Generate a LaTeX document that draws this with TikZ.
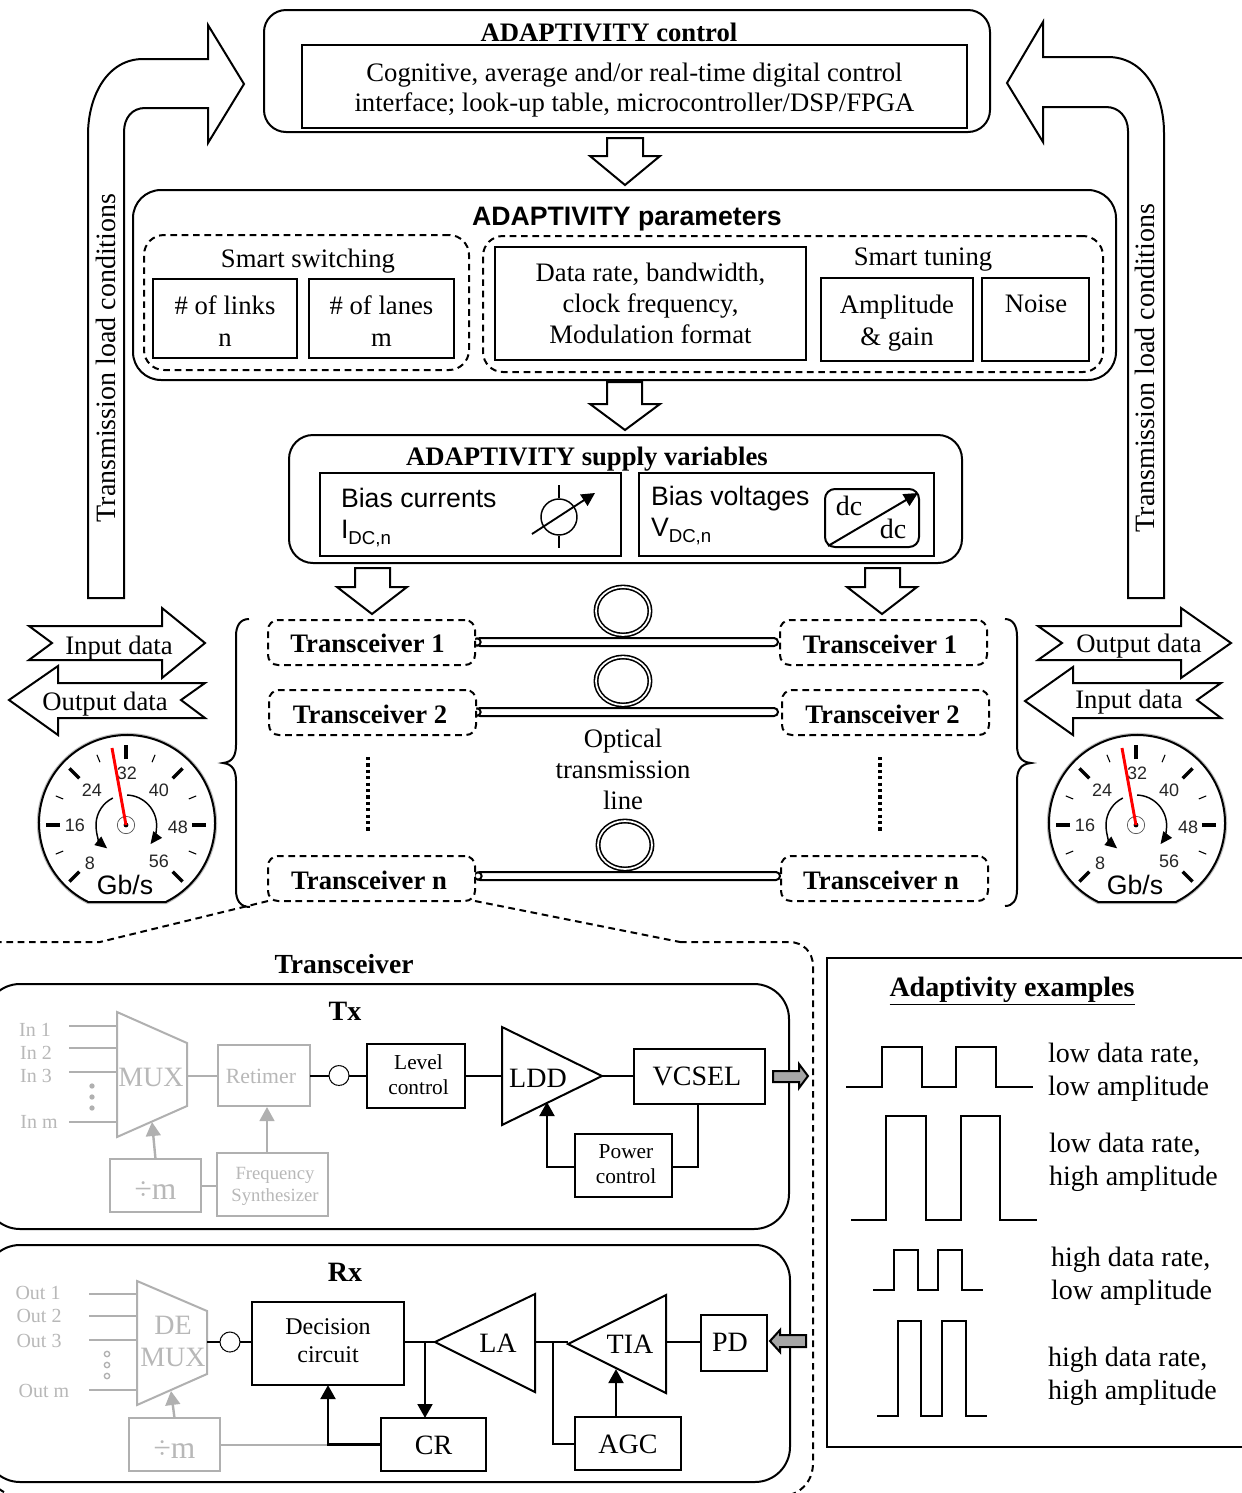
\documentclass[tikz,border=0pt]{standalone}
\usepackage{fontspec}
\setmainfont{Liberation Serif}
\newfontfamily\hv{Liberation Sans}
\usetikzlibrary{arrows.meta,shapes.geometric}
\newcommand\fz[2]{\fontsize{#1}{#2}\selectfont}
\definecolor{gk}{HTML}{B0B0B0}
\definecolor{gt}{HTML}{B8B8B8}
\tikzset{
  lw/.style={line width=1.5pt},
  bx/.style={draw,lw,inner sep=0pt,outer sep=0pt,align=center,fill=white},
  rbx/.style={bx,rounded corners=#1*.75pt},
  dbx/.style={bx,rounded corners=#1*.75pt,dash pattern=on 5pt off 3.5pt,fill=none},
  gbx/.style={bx,draw=gk,text=gt},
  one/.style={text height=17pt,text depth=4pt},
  t/.style={inner sep=0pt,outer sep=0pt,align=center,one},
  m/.style={font=\fz{20}{22.5}},
  mb/.style={font=\fz{21}{22.5}},
  ml/.style={inner sep=0pt,outer sep=0pt,align=center},
  b20/.style={font=\fz{20}{22}\bfseries},
  sm/.style={font=\fz{16}{18.7}},
  lbl/.style={inner sep=0pt,outer sep=0pt,text height=13pt,text depth=2.2pt,font=\fz{15}{15},text=gt},
  blk/.style={draw,lw,fill=white,line join=miter},
  gray/.style={draw=gk,line width=1.5pt},
  gtip/.style={draw=gk,line width=1.8pt,-{Triangle[length=10.5pt,width=11pt]},gk},
  ktip/.style={draw=black,line width=2.2pt,-{Triangle[length=10.5pt,width=11pt]}},
  conn/.style={lw},
  wave/.style={lw,line join=miter},
  ring/.style={draw,ellipse,line width=1.2pt,double,double distance=1.3pt,minimum width=40.5pt,minimum height=36pt,inner sep=0pt},
  fib/.style={draw,lw,rounded corners=3pt,fill=white,inner sep=0pt},
  sock/.style={draw,dash pattern=on 1.6pt off .3pt,line width=.8pt,circle,fill=white,minimum size=15pt,inner sep=0pt},
  gnum/.style={inner sep=0pt,text=black!85,font=\hv\fz{13.5}{14}},
  garrow/.style={line width=1.1pt,-{Triangle[length=9pt,width=8pt]}},
  trxt/.style={t,font=\fz{20}{21}\bfseries},
}
% style, name, x1, y1, x2, y2, text
\newcommand\rectn[7]{\node[#1,minimum width={(#5-#3)*.75pt},minimum height={(#6-#4)*.75pt}] (#2) at ({(#3+#5)/2},{(#4+#6)/2}) {#7}}
\newcommand\gauge[3]{%
\begin{scope}[shift={(#2,#3)},x=.75pt,y=.75pt]
  \begin{scope}[shift={(1,2)}]
  \draw[line width=3.2pt,black!25] (243.9:88) arc[start angle=243.9,end angle=-63.9,radius=66pt] -- cycle;
  \draw[line width=1.5pt,fill=white] (243.9:88) arc[start angle=243.9,end angle=-63.9,radius=66pt] -- cycle;
  \end{scope}
  \foreach \a in {0,45,90,135,180,225,-45} \draw[line width=2.6pt] (\a:66) -- (\a:80);
  \foreach \a in {22.5,67.5,112.5,157.5,202.5,-22.5} \draw[line width=.8pt] (\a:68) -- (\a:76);
  \node[gnum] (#1-32) at (1,52) {32};
  \node[gnum] (#1-24) at (-34,35) {24};
  \node[gnum] (#1-40) at (33,35) {40};
  \node[gnum] (#1-16) at (-51,0) {16};
  \node[gnum] (#1-48) at (52,-2) {48};
  \node[gnum] (#1-8) at (-36,-38) {8};
  \node[gnum] (#1-56) at (33,-36) {56};
  \node[inner sep=0pt,font=\hv\fz{20}{20}] (#1-u) at (-1,-60) {Gb/s};
  \draw[garrow] (116:30) arc[start angle=116,end angle=231,radius=22.5pt];
  \draw[garrow] (88:30) arc[start angle=88,end angle=-37,radius=23pt];
  \draw[line width=.5pt,draw=black!70] (0,0) circle[radius=6.5pt];
  \fill (0,0) circle[radius=1.8pt];
  \draw[red,line width=2.2pt] (0,0) -- (-14,77);
\end{scope}}
\begin{document}
\begin{tikzpicture}[x=.75pt,y=-.75pt]
\useasboundingbox (0,0) rectangle (1242,1493);
\clip (0,0) rectangle (1242,1493);

% ---- control
\rectn{rbx=22}{ctrl}{264}{10}{990}{132}{};
\node[t,b20] (ctrlT) at (609,33) {ADAPTIVITY control};
\rectn{bx}{ctrlI}{302}{45}{967}{128}{};
\node[ml,m] (ctrlX) at (634.5,90.5) {Cognitive, average and/or real-time digital control\\interface; look-up table, microcontroller/DSP/FPGA};

% ---- side arrows
\draw[blk] (88,598) -- (88,135) .. controls (88,95) and (108,59) .. (143,59) -- (208,59) -- (208,25) -- (244,84) -- (208,143) -- (208,108) -- (145,108) .. controls (132,108) and (124,118) .. (124,132) -- (124,598) -- cycle;
\draw[blk] (1164,598) -- (1164,133) .. controls (1164,93) and (1144,57) .. (1108,57) -- (1043,57) -- (1043,22) -- (1007,83) -- (1043,142) -- (1043,107) -- (1106,107) .. controls (1119,107) and (1128,117) .. (1128,131) -- (1128,598) -- cycle;
\node[t,mb,rotate=90] (tlL) at (107,358) {Transmission load conditions};
\node[t,mb,rotate=90] (tlR) at (1146,368) {Transmission load conditions};

% ---- down arrows
\draw[blk] (590,156) -- (607,156) -- (607,138) -- (643,138) -- (643,156) -- (660,156) -- (625,185) -- cycle;
\draw[blk] (590,404) -- (607,404) -- (607,382) -- (642,382) -- (642,404) -- (660,404) -- (625,430) -- cycle;
\draw[blk] (337,587) -- (355,587) -- (355,568) -- (390,568) -- (390,587) -- (407,587) -- (372,614) -- cycle;
\draw[blk] (847,587) -- (865,587) -- (865,568) -- (900,568) -- (900,587) -- (917,587) -- (882,614) -- cycle;

% ---- parameters
\rectn{rbx=28}{par}{133}{190}{1116}{380}{};
\node[t,font=\hv\bfseries\fz{20}{22}] (parT) at (627,216.5) {ADAPTIVITY parameters};
\rectn{dbx=20}{sw}{144}{235}{469}{370}{};
\node[t,m] (swT) at (308,259) {Smart switching};
\rectn{bx}{links}{153}{279}{297}{358}{};
\node[ml,font=\fz{20}{24}] (linksT) at (225,321.5) {\# of links\\n};
\rectn{bx}{lanes}{309}{279}{454}{358}{};
\node[ml,font=\fz{20}{24}] (lanesT) at (381.5,321.5) {\# of lanes\\m};
\rectn{dbx=20}{tu}{483}{236}{1103}{372}{};
\rectn{bx,font=\fz{20}{23.25}}{rate}{495}{247}{806}{360}{Data rate, bandwidth,\\clock frequency,\\Modulation format};
\node[t,m] (tuT) at (923,257) {Smart tuning};
\rectn{bx}{amp}{821}{278}{973}{361}{};
\node[ml,font=\fz{20}{24}] (ampT) at (897,323) {Amplitude\\\& gain};
\rectn{bx}{noise}{982}{278}{1089}{361}{};
\node[t,m] (noiseT) at (1036,304) {Noise};

% ---- supply
\rectn{rbx=24}{sup}{289}{435}{962}{563}{};
\node[t,b20] (supT) at (587,457) {ADAPTIVITY supply variables};
\rectn{bx}{cur}{320}{473}{621}{556}{};
\node[t,anchor=west,font=\hv\fz{20}{22}] (curT) at (341,499) {Bias currents};
\node[t,anchor=west,font=\hv\fz{20}{22}] (curS) at (341,530) {I\raisebox{-.2em}{\fz{14}{14}DC,n}};
\rectn{bx}{vol}{639}{473}{934}{556}{};
\node[t,anchor=west,font=\hv\fz{20}{22}] (volT) at (651,497) {Bias voltages};
\node[t,anchor=west,font=\hv\fz{20}{22}] (volS) at (651,528) {V\raisebox{-.2em}{\fz{14}{14}DC,n}};
\node[draw,circle,line width=1.1pt,minimum size=27pt,inner sep=0pt] (src) at (559,517) {};
\coordinate (srcT) at (559,485); \coordinate (srcB) at (559,548);
\draw[line width=1.1pt] (srcT) -- (src.north);
\draw[line width=1.1pt] (src.south) -- (srcB);
\coordinate (srcA) at (532,534); \coordinate (srcZ) at (595,493);
\draw[line width=1.4pt,-{Triangle[length=10pt,width=10pt]}] (srcA) -- (srcZ);
\rectn{rbx=10}{dcb}{825}{489}{919}{547}{};
\coordinate (dcA) at (828,546); \coordinate (dcZ) at (918,493);
\draw[line width=1.5pt,-{Triangle[length=10.5pt,width=10pt]}] (dcA) -- (dcZ);
\node[t,mb] (dc1) at (849,507) {dc};
\node[t,mb] (dc2) at (893,530) {dc};

% ---- data arrows
\draw[blk] (29,626) -- (162,626) -- (162,608) -- (205,643) -- (162,678) -- (162,660) -- (29,660) -- (52,643) -- cycle;
\draw[blk] (9,700) -- (58,666) -- (58,683) -- (205,683) -- (181,700) -- (205,718) -- (58,718) -- (58,735) -- cycle;
\node[t,m] (inL) at (119,646) {Input data};
\node[t,m] (outL) at (105,702) {Output data};
\draw[blk] (1038,626) -- (1181,626) -- (1181,608) -- (1231,643) -- (1181,678) -- (1181,660) -- (1038,660) -- (1062,643) -- cycle;
\draw[blk] (1025,701) -- (1073,667) -- (1073,683) -- (1221,683) -- (1197,700) -- (1221,718) -- (1073,718) -- (1073,735) -- cycle;
\node[t,m] (outR) at (1139,644) {Output data};
\node[t,m] (inR) at (1129,700) {Input data};

% ---- gauges
\gauge{gl}{126}{825}
\gauge{gr}{1136}{825}

% ---- braces
\draw[lw] (249,619) .. controls (240,619) and (236,626) .. (236,636) -- (236,745) .. controls (236,755) and (233,762) .. (223,763) .. controls (233,764) and (236,771) .. (236,781) -- (236,890) .. controls (236,900) and (240,907) .. (250,907);
\draw[lw] (1005,619) .. controls (1013,619) and (1017,626) .. (1017,636) -- (1017,745) .. controls (1017,755) and (1020,762) .. (1031,763) .. controls (1020,764) and (1017,771) .. (1017,781) -- (1017,890) .. controls (1017,900) and (1013,906) .. (1005,906);

% ---- rings and fibres
\node[ring] (r1) at (623,611) {};
\node[ring] (r2) at (623,681) {};
\node[ring] (r3) at (625,845) {};
\rectn{fib}{f1}{476}{638}{778}{646}{};
\rectn{fib}{f2}{476}{708}{778}{716}{};
\rectn{fib}{f3}{476}{872}{780}{880}{};
\node[draw,circle,lw,minimum size=5.5pt,inner sep=0pt,fill=white] (c1) at (477,642) {};
\node[draw,circle,lw,minimum size=5.5pt,inner sep=0pt,fill=white] (c2) at (477,712) {};
\node[draw,circle,lw,minimum size=5.5pt,inner sep=0pt,fill=white] (c3) at (478,876) {};

% ---- transceivers
\tikzset{trx/.style={dbx=10,fill=white}}
\rectn{trx}{l1}{268}{620}{475}{665}{};
\rectn{trx}{l2}{269}{690}{476}{735}{};
\rectn{trx}{ln}{268}{856}{475}{901}{};
\rectn{trx}{r1b}{780}{620}{987}{665}{};
\rectn{trx}{r2b}{782}{690}{989}{735}{};
\rectn{trx}{rnb}{781}{856}{988}{901}{};
\node[trxt] (l1T) at (367.5,644) {Transceiver 1};
\node[trxt] (l2T) at (370,715) {Transceiver 2};
\node[trxt] (lnT) at (369,881) {Transceiver n};
\node[trxt] (r1T) at (880,645) {Transceiver 1};
\node[trxt] (r2T) at (882.5,715) {Transceiver 2};
\node[trxt] (rnT) at (881,881) {Transceiver n};
\node[ml,m] (opt) at (623,769.5) {Optical\\[.8pt]transmission\\[.8pt]line};
\coordinate (dl1) at (368,757); \coordinate (dl2) at (368,833);
\coordinate (dr1) at (880,757); \coordinate (dr2) at (880,833);
\draw[line width=2.6pt,dash pattern=on 2.4pt off 2.4pt] (dl1) -- (dl2);
\draw[line width=2.6pt,dash pattern=on 2.4pt off 2.4pt] (dr1) -- (dr2);

% ---- transceiver zoom frame
\coordinate (zl) at (100,942); \coordinate (zr) at (680,942);
\draw[lw,dash pattern=on 5pt off 3.5pt] (ln.south west) -- (zl);
\draw[lw,dash pattern=on 5pt off 3.5pt] (ln.south east) -- (zr);
\draw[lw,dash pattern=on 5pt off 3.5pt] (-5,942) -- (zl) (zr) -- (789,942) .. controls (803,942) and (813,952) .. (813,966) -- (813,1463) .. controls (813,1482) and (800,1497) .. (775,1497) -- (22,1497) .. controls (12,1497) and (4,1493) .. (-5,1486);
\node[t,font=\fz{20.7}{22}\bfseries] (trT) at (344,965) {Transceiver};

% ---- Tx
\rectn{rbx=35}{tx}{-15}{984}{789}{1229}{};
\node[t,font=\fz{21}{22}\bfseries] (txT) at (345,1012) {Tx};
\coordinate (muxA) at (117,1012); \coordinate (muxB) at (187,1043); \coordinate (muxC) at (187,1106); \coordinate (muxD) at (117,1137);
\draw[gray] (muxA) -- (muxB) -- (muxC) -- (muxD) -- cycle;
\node[t,font=\fz{21}{22},text=gt] (muxT) at (151,1078) {MUX};
\node[lbl] (in1) at (35,1029) {In 1};
\node[lbl] (in2) at (36,1052) {In 2};
\node[lbl] (in3) at (36,1075) {In 3};
\node[lbl] (inm) at (39,1121) {In m};
\foreach \n/\y in {a/1026,b/1048,c/1072,d/1122}{
  \coordinate (ti\n) at (69,\y); \coordinate (tj\n) at (117,\y);
  \draw[gray] (ti\n) -- (tj\n);}
\fill[gk] (92,1086) circle[radius=2pt] (92,1097) circle[radius=2pt] (92,1108) circle[radius=2pt];
\rectn{gbx}{ret}{218}{1045}{310}{1106}{};
\node[ml,font=\fz{16.3}{18},text=gt] (retT) at (261,1076.5) {Retimer};
\coordinate (muxE) at (187,1076);
\draw[gray] (muxE) -- (muxE -| ret.west);
\rectn{bx}{lvl}{367}{1044}{465}{1108}{};
\node[ml,sm] (lvlT) at (418.5,1075) {Level\\control};
\draw[conn] (ret.east) -- (ret.east -| lvl.west);
\node[sock] (s1) at (339,1075.5) {};
\rectn{gbx,font=\fz{23.6}{24},text height=24.5pt,text depth=4pt}{dm}{110}{1159}{201}{1212}{÷m};
\rectn{gbx}{fs}{217}{1153}{328}{1216}{};
\node[ml,font=\fz{14}{16.5},text=gt] (fsX) at (275,1186.5) {Frequency\\Synthesizer};
\draw[gray] (dm.east) -- (dm.east -| fs.west);
\coordinate (muxP) at (152,1122);
\draw[gtip] (dm.north) -- (muxP);
\coordinate (fsT) at (267,1152); \coordinate (retB) at (267,1107);
\draw[gtip] (fsT) -- (retB);
\coordinate (lddA) at (502,1027); \coordinate (lddB) at (602,1076); \coordinate (lddC) at (502,1125);
\draw[lw,fill=white] (lddA) -- (lddB) -- (lddC) -- cycle;
\node[t,mb] (lddT) at (538,1079) {LDD};
\draw[conn] (lvl.east) -- (lvl.east -| lddA);
\rectn{bx}{vcs}{634}{1049}{765}{1104}{};
\node[t,mb] (vcsT) at (697,1077) {VCSEL};
\draw[conn] (lddB) -- (lddB -| vcs.west);
\rectn{bx}{pwr}{575}{1134}{672}{1197}{};
\node[ml,sm] (pwrT) at (626,1164.5) {Power\\control};
\coordinate (vcsB) at (698,1104); \coordinate (pw) at (698,1167); \coordinate (pwW) at (575,1167);
\draw[conn] (vcsB) -- (pw) -- (pw -| pwr.east);
\coordinate (lddP) at (547,1102);
\draw[ktip] (pwW) -| (lddP);
\draw[lw,fill=gray!70!white] (773,1071) -- (799,1071) -- (799,1064) -- (808,1076) -- (799,1088) -- (799,1082) -- (773,1082) -- cycle;

% ---- Rx
\rectn{rbx=35}{rx}{-15}{1245}{790}{1482}{};
\node[t,font=\fz{21}{22}\bfseries] (rxT) at (345,1273) {Rx};
\coordinate (dmxA) at (137,1281); \coordinate (dmxB) at (207,1311); \coordinate (dmxC) at (207,1374); \coordinate (dmxD) at (137,1405);
\draw[gray] (dmxA) -- (dmxB) -- (dmxC) -- (dmxD) -- cycle;
\node[t,font=\fz{21}{22},text=gt] (dmxT1) at (173,1326) {DE};
\node[t,font=\fz{21}{22},text=gt] (dmxT2) at (173,1358) {MUX};
\node[lbl] (o1) at (38,1292) {Out 1};
\node[lbl] (o2) at (39,1315) {Out 2};
\node[lbl] (o3) at (39,1340) {Out 3};
\node[lbl] (om) at (44,1390) {Out m};
\foreach \n/\y in {a/1294,b/1316,c/1340,d/1390}{
  \coordinate (ri\n) at (89,\y); \coordinate (rj\n) at (137,\y);
  \draw[gray] (ri\n) -- (rj\n);}
\foreach \y in {1354,1365,1376} \draw[gk,line width=1pt] (107,\y) circle[radius=2pt];
\rectn{bx}{dec}{252}{1302}{404}{1385}{};
\node[ml,font=\fz{18}{21}] (decT) at (328,1341) {Decision\\circuit};
\coordinate (dmxE) at (207,1342);
\draw[conn] (dmxE) -- (dmxE -| dec.west);
\node[sock] (s2) at (230,1342) {};
\rectn{gbx,font=\fz{23.6}{24},text height=24.5pt,text depth=4pt}{dm2}{129}{1418}{220}{1471}{÷m};
\coordinate (dmxP) at (171,1391);
\draw[gtip] (dm2.north) -- (dmxP);
\rectn{bx,mb,one,text height=19.7pt}{cr}{381}{1418}{486}{1471}{CR};
\coordinate (crJ) at (dec.south |- cr.west);
\draw[gray] (dm2.east) -- (crJ);
\draw[ktip] (cr.west) -- (crJ) -- (dec.south);
\coordinate (laA) at (435,1342); \coordinate (laB) at (535,1294); \coordinate (laC) at (535,1392);
\draw[lw,fill=white] (laA) -- (laB) -- (laC) -- cycle;
\node[t,mb] (laT) at (498,1344) {LA};
\draw[conn] (laA -| dec.east) -- (laA);
\coordinate (crS) at (425,1342); \coordinate (crP) at (425,1418);
\draw[ktip] (crS) -- (crP);
\coordinate (tiaA) at (568,1344); \coordinate (tiaB) at (666,1295); \coordinate (tiaC) at (666,1393);
\draw[lw,fill=white] (tiaA) -- (tiaB) -- (tiaC) -- cycle;
\node[t,mb] (tiaT) at (630,1345) {TIA};
\coordinate (laO) at (535,1342); \coordinate (tiaI) at (568,1342);
\draw[conn] (laO) -- (tiaI);
\rectn{bx,mb,one,text height=19.7pt}{agc}{575}{1417}{681}{1470}{AGC};
\coordinate (agcS) at (553,1342);
\draw[conn] (agcS) |- (agc.west);
\coordinate (agcT) at (616,1417); \coordinate (tiaP) at (616,1369);
\draw[ktip] (agcT) -- (tiaP);
\rectn{bx}{pd}{701}{1315}{767}{1371}{};
\node[t,mb] (pdT) at (730,1343) {PD};
\coordinate (tiaO) at (666,1342);
\draw[conn] (tiaO) -- (tiaO -| pd.west);
\draw[lw,fill=gray!70!white] (806,1335) -- (780,1335) -- (780,1330) -- (770,1341) -- (780,1352) -- (780,1347) -- (806,1347) -- cycle;

% ---- examples
\rectn{bx,fill=none}{ex}{827}{958}{1260}{1447}{};
\node[t,font=\fz{21}{22}\bfseries] (exT) at (1012,988) {\underline{Adaptivity examples}};
\draw[wave] (846,1087) -- (882,1087) -- (882,1047) -- (922,1047) -- (922,1087) -- (956,1087) -- (956,1047) -- (996,1047) -- (996,1087) -- (1033,1087);
\draw[wave] (851,1220) -- (886,1220) -- (886,1116) -- (926,1116) -- (926,1220) -- (961,1220) -- (961,1116) -- (1000,1116) -- (1000,1220) -- (1037,1220);
\draw[wave] (873,1290) -- (894,1290) -- (894,1250) -- (918,1250) -- (918,1290) -- (938,1290) -- (938,1250) -- (962,1250) -- (962,1290) -- (983,1290);
\draw[wave] (877,1416) -- (898,1416) -- (898,1321) -- (921,1321) -- (921,1416) -- (942,1416) -- (942,1321) -- (966,1321) -- (966,1416) -- (987,1416);
\tikzset{ext/.style={ml,anchor=north west,align=left,font=\fz{21}{24.6}}}
\node[ext] (e1) at (1048,1043) {low data rate,\\low amplitude};
\node[ext] (e2) at (1049,1133) {low data rate,\\high amplitude};
\node[ext] (e3) at (1051,1247) {high data rate,\\low amplitude};
\node[ext] (e4) at (1048,1347) {high data rate,\\high amplitude};
\end{tikzpicture}
\end{document}
